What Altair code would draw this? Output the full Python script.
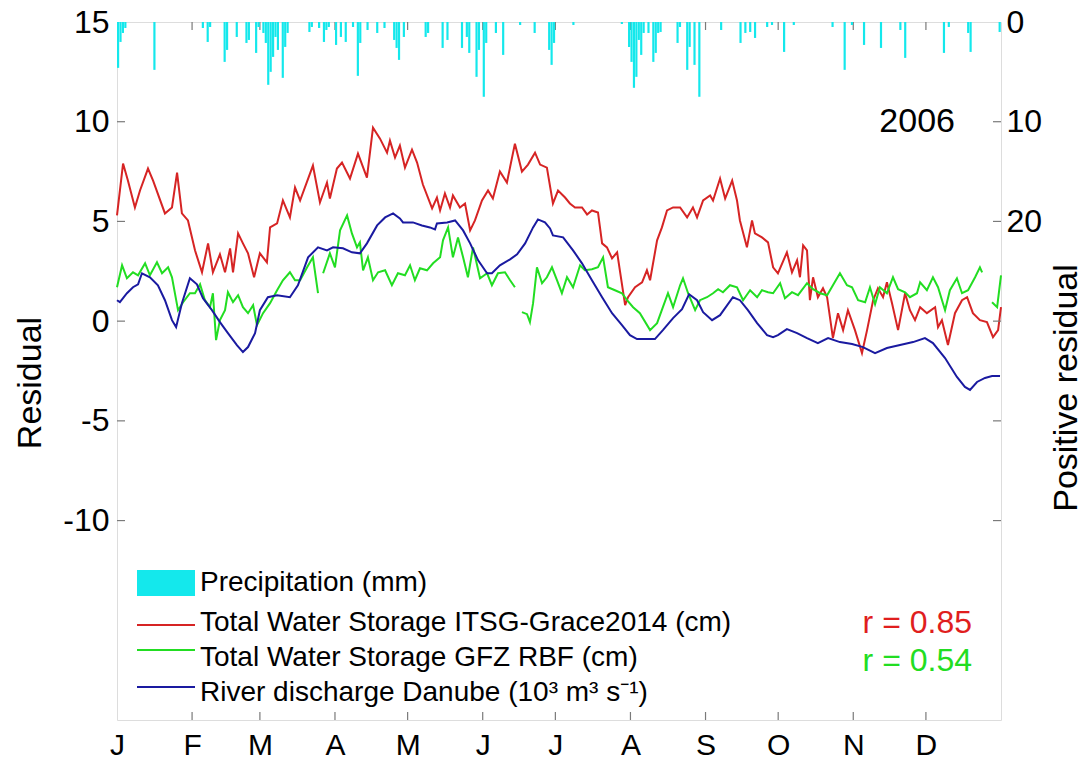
import altair as alt
import pandas as pd

# ---------------- data ----------------
month_starts = [0, 31, 59, 90, 120, 151, 181, 212, 243, 273, 304, 334]
month_letters = ["J", "F", "M", "A", "M", "J", "J", "A", "S", "O", "N", "D"]

red_day = [0, 2.5, 4.5, 7.4, 9.5, 12.8, 14.9, 19.8, 22.7, 24.8, 26.8, 29.3, 32.2, 35.1, 37.6, 39.6,
           42.5, 44.6, 46.7, 47.9, 50.0, 52.0, 54.1, 56.6, 59.0, 61.9, 63.2, 66.1, 68.5, 71.4, 73.5,
           75.6, 80.9, 83.8, 86.7, 87.9, 90.8, 92.9, 96.2, 99.5, 103.2, 105.7, 108.6, 111.5, 112.7,
           114.8, 116.8, 118.9, 121.8, 123.9, 126.3, 130.1, 132.1, 133.4, 135.4, 137.5, 138.7, 141.6,
           143.7, 145.8, 147.8, 150.7, 153.2, 155.2, 158.1, 161.0, 164.3, 167.2, 169.7, 172.6, 174.7,
           177.5, 180.0, 182.1, 185.0, 187.0, 189.1, 192.0, 194.1, 196.1, 198.6, 200.3, 202.3, 204.4,
           206.5, 209.8, 211.0, 213.9, 216.8, 218.8, 220.1, 223.0, 225.0, 227.1, 229.6, 232.5, 235.4,
           237.8, 239.5, 242.0, 244.9, 246.1, 249.0, 251.1, 254.0, 256.0, 257.2, 260.1, 262.2, 263.4,
           266.3, 268.8, 270.9, 272.9, 276.6, 278.7, 280.8, 282.0, 283.3, 284.9, 286.1, 287.4, 289.4,
           291.5, 293.2, 295.6, 297.7, 299.8, 301.8, 304.7, 307.6, 309.7, 312.2, 314.2, 316.3, 317.9,
           320.0, 322.5, 325.4, 327.4, 329.5, 331.6, 334.4, 337.8, 339.0, 340.6, 343.1, 346.0, 348.9,
           351.0, 353.4, 356.3, 359.2, 361.7, 363.8, 365.0]
red_val = [5.3, 7.9, 7.05, 5.7, 6.55, 7.65, 7.05, 5.4, 5.7, 7.45, 5.4, 5.05, 3.55, 2.45, 3.9, 2.45,
           3.35, 2.45, 3.65, 2.45, 4.4, 3.9, 3.4, 2.2, 3.4, 2.95, 4.7, 4.9, 6.05, 5.2, 6.7,
           6.05, 7.8, 5.95, 6.95, 6.15, 7.65, 7.95, 7.15, 8.4, 7.2, 9.7, 9.15, 8.45, 9.05,
           8.2, 8.8, 7.7, 8.6, 7.95, 6.85, 5.65, 6.2, 5.55, 6.4, 5.7, 6.3, 5.7,
           5.9, 4.55, 5.05, 6.05, 6.55, 6.15, 7.5, 6.95, 8.9, 7.5, 7.85, 8.45, 7.85,
           7.7, 5.9, 6.55, 6.2, 5.9, 5.7, 5.7, 5.35, 5.55, 5.45, 3.9, 3.7, 3.15,
           3.45, 0.8, 1.2, 1.7, 1.95, 2.55, 2.05, 4.05, 4.7, 5.55, 5.7, 5.7, 5.2,
           5.7, 5.2, 6.05, 6.3, 6.05, 7.15, 6.15, 7.05, 6.05, 5.05, 3.7, 5.05, 4.4,
           4.2, 3.95, 2.7, 2.4, 3.45, 2.45, 3.05, 2.2, 3.8, 3.55, 1.05, 2.2, 1.2,
           1.65, 1.2, -0.85, 0.4, -0.45, 0.55, -0.45, -1.6, -0.45, 1.05, 1.65, 1.2, 1.95,
           0.9, -0.45, 1.4, 0.55, 0.05, 0.7, 0.4, 0.7, -0.3, 0.05, -1.2, 0.4, 1.05,
           1.2, 0.4, 0.05, -0.05, -0.8, -0.45, 0.7]

# None marks a gap in the GFZ series
green_day = [0, 2.1, 4.1, 6.6, 8.7, 11.6, 13.6, 16.5, 18.6, 21.1, 22.7, 25.2, 27.3, 30.1, 32.2, 34.3,
             36.3, 38.4, 39.6, 40.9, 42.5, 44.6, 45.8, 47.9, 50.0, 52.0, 54.1, 56.2, 57.8, 60.3,
             63.2, 66.1, 68.5, 71.4, 73.5, 75.6, 78.5, 80.9, 83.0, None,
             85.1, 87.9, 90.0, 92.1, 95.0, 97.0, 99.1, 100.3, 101.6, 103.6, 105.7, 107.8, 110.7,
             113.5, 116.0, 118.9, 121.0, 123.0, 125.1, 128.0, 130.5, 133.4, 134.6, 136.7, 138.7,
             140.8, 142.9, 144.9, 147.0, 149.9, 152.8, 154.8, 157.3, 160.2, 162.3, 164.3, None,
             167.2, 169.3, 170.5, 171.8, 173.4, 175.5, 177.5, 179.6, 181.7, 183.7, 185.8, 188.3,
             191.2, 193.2, 196.1, 198.6, 200.7, 202.7, 205.6, 208.5, 210.6, 213.1, 215.9, 220.1,
             223.0, 225.4, 227.5, 229.6, 232.5, 233.7, 235.8, 238.7, 240.7, 243.6, 246.1, 248.2,
             250.2, 253.1, 256.0, 258.5, 261.4, 264.3, 266.3, 268.8, 270.9, 273.8, 275.8, 278.7,
             281.2, 284.9, 287.4, 290.3, 293.2, 295.6, 298.5, 301.4, 303.5, 306.0, 308.9, 310.9,
             313.0, 315.0, 317.9, 320.4, 322.5, 325.4, 327.4, 330.3, 331.6, 334.4, 336.9, 339.0,
             341.9, 343.9, 346.8, 348.9, 351.4, 354.3, 356.3, 357.2, None,
             361.3, 363.4, 365.0]
green_val = [1.7, 2.8, 2.15, 2.45, 2.3, 2.9, 2.3, 2.95, 2.4, 2.7, 2.2, 0.55, 0.95, 1.4, 1.4, 1.85,
             1.05, 0.7, 1.4, -0.95, 0.05, 0.55, 1.45, 0.95, 1.3, 0.7, 0.4, 0.8, -0.2, 0.4,
             0.9, 1.55, 2.05, 2.45, 2.05, 2.05, 2.7, 3.2, 1.4, None,
             2.4, 3.4, 2.7, 4.55, 5.3, 4.4, 3.7, 3.95, 2.55, 3.2, 2.05, 2.45, 2.55,
             1.8, 2.4, 2.3, 2.8, 2.05, 2.65, 2.55, 2.9, 3.2, 4.05, 4.7, 3.2,
             4.2, 3.2, 2.2, 3.7, 2.15, 2.4, 1.8, 2.4, 2.45, 2.05, 1.7, None,
             0.45, 0.35, -0.05, 0.9, 2.7, 1.9, 2.2, 2.7, 2.05, 1.4, 2.2, 1.7,
             2.8, 2.55, 2.6, 2.7, 3.2, 1.7, 1.55, 1.4, 1.05, 0.7, 0.4, -0.45,
             -0.1, 0.7, 1.4, 0.7, 1.8, 2.15, 1.4, 0.55, 1.05, 1.2, 1.4, 1.6,
             1.45, 1.8, 1.7, 1.05, 1.55, 1.2, 1.55, 1.45, 1.4, 1.9, 1.15, 1.45,
             1.3, 1.9, 1.6, 1.4, 1.3, 1.8, 2.4, 1.8, 1.7, 1.05, 0.95, 1.7,
             0.85, 1.7, 1.4, 2.2, 1.6, 1.45, 1.2, 1.4, 1.95, 1.55, 2.2, 1.7,
             0.55, 1.55, 2.15, 1.4, 1.55, 2.2, 2.7, 2.45, None,
             0.95, 0.7, 2.3]

blue_day = [0, 1.2, 4.1, 6.6, 8.7, 10.3, 13.6, 16.9, 19.8, 22.7, 24.4, 26.8, 30.1, 33.0, 35.5, 39.2,
            42.5, 45.8, 49.5, 52.0, 54.1, 57.0, 59.0, 62.3, 66.1, 71.4, 74.7, 78.9, 83.0, 86.7,
            89.2, 93.3, 97.0, 100.3, 103.2, 107.4, 110.7, 114.0, 116.8, 118.1, 122.2, 125.9, 129.2,
            131.3, 132.1, 136.3, 139.6, 142.9, 145.8, 149.1, 152.8, 154.8, 158.1, 162.3, 165.2,
            168.5, 171.8, 173.8, 176.7, 178.8, 180.0, 184.2, 188.3, 192.0, 196.1, 200.3, 204.4,
            208.5, 211.8, 214.7, 218.8, 222.1, 225.4, 229.6, 233.3, 236.2, 239.5, 242.0, 245.7,
            249.0, 254.3, 257.2, 260.5, 264.3, 268.4, 270.9, 272.9, 276.6, 280.8, 284.9, 289.4,
            293.6, 298.5, 303.5, 308.0, 313.0, 317.9, 323.3, 328.7, 333.6, 336.9, 341.9, 346.8,
            350.1, 352.2, 355.1, 358.4, 361.3, 364.6]
blue_val = [1.05, 0.95, 1.4, 1.7, 1.85, 2.4, 2.2, 1.8, 1.05, 0.05, -0.3, 0.9, 2.15, 1.85, 1.15, 0.55,
            -0.05, -0.6, -1.2, -1.55, -1.3, -0.6, 0.55, 1.2, 1.3, 1.2, 1.8, 3.2, 3.7, 3.55,
            3.7, 3.65, 3.45, 3.4, 3.9, 4.8, 5.2, 5.4, 5.15, 4.95, 4.95, 4.8, 4.7,
            4.6, 4.9, 4.95, 5.05, 4.55, 3.9, 3.05, 2.4, 2.4, 2.8, 3.1, 3.35,
            3.9, 4.7, 5.1, 4.95, 4.65, 4.3, 4.2, 3.55, 2.9, 2.05, 1.2, 0.4,
            -0.2, -0.7, -0.9, -0.9, -0.9, -0.45, 0.15, 0.6, 1.35, 1.05, 0.45, 0.05,
            0.3, 1.2, 1.05, 0.55, -0.1, -0.7, -0.8, -0.7, -0.4, -0.6, -0.85, -1.1,
            -0.85, -1.05, -1.15, -1.3, -1.6, -1.35, -1.2, -1.05, -0.85, -1.1, -1.85, -2.8,
            -3.3, -3.45, -3.05, -2.85, -2.75, -2.75]

precip_day = [0, 1, 2, 3, 15, 35, 37, 38, 44, 45, 49, 53, 54, 57, 58, 60, 61, 62, 63, 64, 65, 66,
              68, 69, 70, 79, 80, 83, 85, 86, 87, 90, 92, 94, 97, 99, 100, 103, 107, 110, 114, 115,
              116, 118, 127, 128, 134, 136, 142, 144, 145, 148, 149, 151, 152, 156, 159, 166, 172,
              178, 179, 180, 188, 208, 211, 212, 213, 214, 215, 216, 217, 219, 221, 222, 223, 224,
              231, 232, 235, 236, 238, 240, 249, 257, 259, 261, 263, 268, 270, 275, 279, 295, 300,
              303, 308, 315, 323, 325, 341, 343, 351, 352, 364]
precip_mm = [4.6, 2.0, 1.1, 0.6, 4.8, 0.6, 2.0, 0.5, 4.0, 2.8, 1.5, 2.1, 1.8, 3.1, 0.5, 1.1, 2.1,
             6.3, 5.0, 3.5, 1.5, 2.8, 5.6, 2.5, 1.1, 1.0, 0.5, 0.6, 2.0, 0.8, 0.5, 2.3, 1.5, 2.0,
             0.5, 5.4, 2.1, 0.8, 1.1, 0.6, 1.8, 2.6, 3.8, 1.5, 1.5, 1.1, 2.6, 1.8, 2.6, 1.5, 3.1,
             5.5, 2.8, 7.5, 2.1, 1.1, 3.3, 0.3, 1.1, 2.8, 4.3, 2.1, 0.3, 0.2, 2.5, 4.0, 6.6, 5.5,
             1.8, 3.3, 1.1, 1.1, 4.0, 3.1, 1.1, 1.0, 2.1, 0.5, 4.8, 2.5, 4.3, 7.5, 0.8, 2.1, 1.1,
             1.0, 1.6, 0.5, 0.3, 3.0, 0.3, 0.5, 4.8, 0.3, 2.3, 2.6, 0.8, 3.6, 3.1, 0.5, 1.1, 3.0,
             1.0]

left_ticks = [-10, -5, 0, 5, 10, 15]
right_ticks = [0, 10, 20]

# ---------------- build tables ----------------
def segmented(days, vals):
    rows, seg = [], 0
    for d, v in zip(days, vals):
        if v is None:
            seg += 1
            continue
        rows.append({"day": d, "val": v, "seg": seg})
    return pd.DataFrame(rows)

red_df = segmented(red_day, red_val)
green_df = segmented(green_day, green_val)
blue_df = segmented(blue_day, blue_val)
precip_df = pd.DataFrame({"day": precip_day, "mm": precip_mm})
precip_df["day_end"] = precip_df["day"] + 0.9
precip_df["base"] = 0.0
mticks_df = pd.DataFrame({"day": month_starts[1:]})
lticks_df = pd.DataFrame({"v": left_ticks[:-1]})
one = pd.DataFrame({"a": [0]})

FONT = "Liberation Sans"
W, H = 884, 698
RED, GREEN, BLUE, CYAN = "#d62424", "#22dd22", "#1a1aa0", "#14e8ec"
FRAME = "#7a7a7a"

label_expr = "{}[indexof({}, datum.value)]".format(
    "[" + ",".join("'%s'" % m for m in month_letters) + "]",
    "[" + ",".join(str(m) for m in month_starts) + "]")

x_scale = alt.Scale(domain=[0, 365], nice=False, zero=False)
y_scale = alt.Scale(domain=[-20, 15], nice=False, zero=False)
p_scale = alt.Scale(domain=[0, 70], reverse=True, nice=False, zero=False)

x_axis = alt.Axis(values=month_starts, labelExpr=label_expr, ticks=False, domain=False,
                  grid=False, labelFontSize=30, labelPadding=25, labelBaseline="middle",
                  title=None, labelFlush=False, labelOverlap=False, labelColor="black",
                  labelFont=FONT)
y_axis = alt.Axis(orient="left", values=left_ticks, labelExpr="'' + datum.value", ticks=False,
                  domain=False, grid=False, labelFontSize=32, labelPadding=8, title=None,
                  labelColor="black", labelFont=FONT, labelFlush=False, labelOverlap=False)
p_axis = alt.Axis(orient="right", values=right_ticks, labelExpr="'' + datum.value", ticks=False,
                  domain=False, grid=False, labelFontSize=32, labelPadding=5, title=None,
                  labelColor="black", labelFont=FONT, labelFlush=False, labelOverlap=False)

X = alt.X("day:Q", scale=x_scale, axis=x_axis)


def line(df, color):
    return alt.Chart(df).mark_line(color=color, strokeWidth=2).encode(
        x=X, y=alt.Y("val:Q", scale=y_scale, axis=y_axis), detail="seg:N")


tick_l = alt.Chart(lticks_df).mark_rule(color=FRAME, strokeWidth=1.2).encode(
    y=alt.Y("v:Q", scale=y_scale, axis=y_axis), x=alt.value(0), x2=alt.value(8))
tick_r = alt.Chart(lticks_df).mark_rule(color=FRAME, strokeWidth=1.2).encode(
    y=alt.Y("v:Q", scale=y_scale, axis=y_axis), x=alt.value(W - 8), x2=alt.value(W))
tick_b = alt.Chart(mticks_df).mark_rule(color=FRAME, strokeWidth=1.2).encode(
    x=X, y=alt.value(H - 8), y2=alt.value(H))
tick_t = alt.Chart(mticks_df).mark_rule(color=FRAME, strokeWidth=1.2).encode(
    x=X, y=alt.value(0), y2=alt.value(8))


def txt(s, x, y, size=28, color="black", align="left", baseline="middle", angle=0):
    return alt.Chart(one).mark_text(text=s, align=align, baseline=baseline, fontSize=size,
                                    color=color, font=FONT, angle=angle).encode(
        x=alt.value(x), y=alt.value(y))


def leg_line(color, y):
    return alt.Chart(one).mark_rule(color=color, strokeWidth=2).encode(
        x=alt.value(20), x2=alt.value(78), y=alt.value(y))


leg_patch = alt.Chart(one).mark_rect(color=CYAN).encode(
    x=alt.value(20), x2=alt.value(78), y=alt.value(548), y2=alt.value(574))

left_group = alt.layer(
    line(red_df, RED), line(green_df, GREEN), line(blue_df, BLUE),
    tick_l, tick_r, tick_b, tick_t,
    leg_patch,
    txt("Precipitation (mm)", 83, 561),
    leg_line(RED, 603), txt("Total Water Storage ITSG-Grace2014 (cm)", 83, 601),
    leg_line(GREEN, 628), txt("Total Water Storage GFZ RBF (cm)", 83, 636),
    leg_line(BLUE, 665), txt("River discharge Danube (10\u00b3 m\u00b3 s\u207b\u00b9)", 83, 671),
    txt("r = 0.85", 855, 601, size=32, color="#e01e1e", align="right"),
    txt("r = 0.54", 855, 639, size=32, color="#22dd22", align="right"),
    txt("2006", 838, 100, size=34, align="right"),
    txt("Residual", -86, 361, size=34, align="center", angle=270),
    txt("Positive residual", 950, 366, size=34, align="center", angle=270),
)

precip = alt.Chart(precip_df).mark_rect(color=CYAN).encode(
    x=X, x2="day_end:Q",
    y=alt.Y("mm:Q", scale=p_scale, axis=p_axis), y2="base:Q")

chart = alt.layer(left_group, precip).resolve_scale(y="independent").properties(
    width=W, height=H,
    padding={"left": 117, "top": 22, "right": 1090 - 117 - W, "bottom": 761 - 22 - H},
    autosize=alt.AutoSizeParams(type="none"),
    background="white",
).configure_view(stroke=FRAME, strokeWidth=1.5).configure(font=FONT)

chart.save("out.html", embed_options={"renderer": "svg", "actions": False})
